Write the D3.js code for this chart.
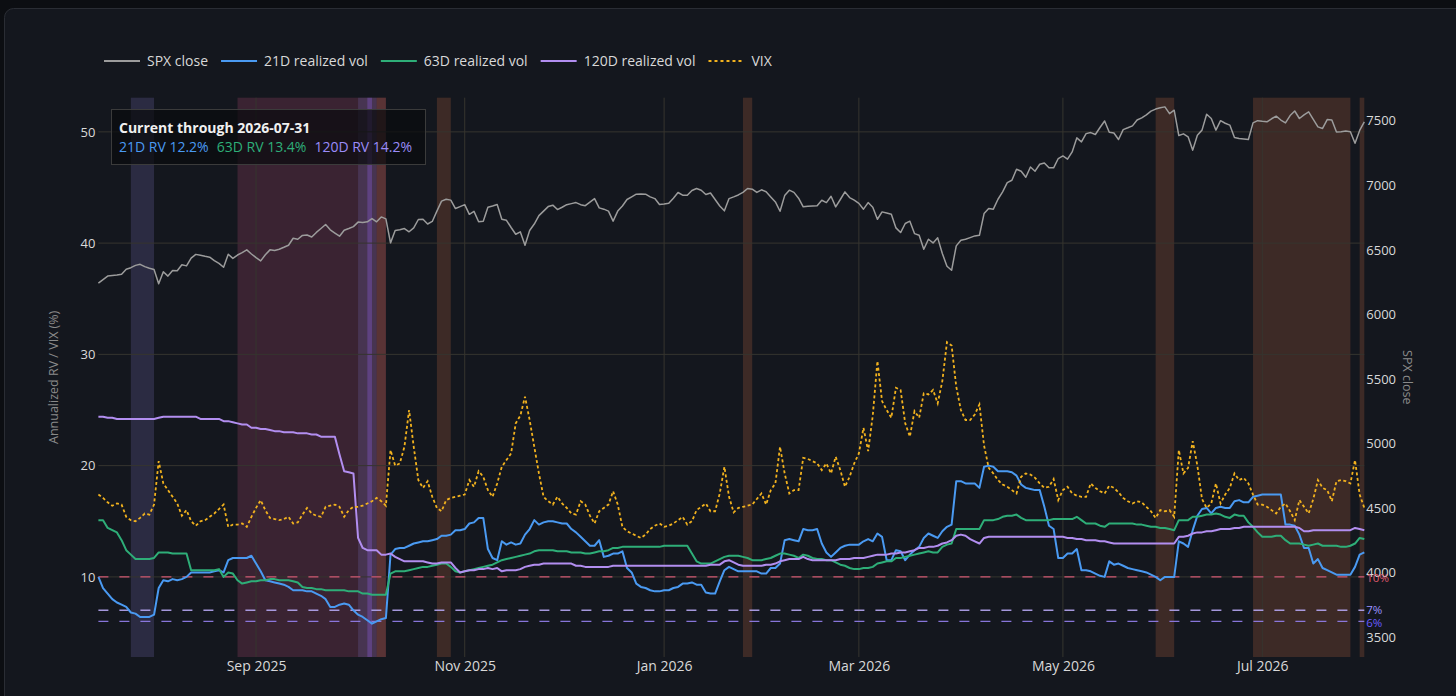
<!DOCTYPE html>
<html>
<head>
<meta charset="utf-8">
<script src="https://cdn.jsdelivr.net/npm/d3@7"></script>
<style>
  body { margin: 0; background: #0c0e12; }
  svg { display: block; font-family: "Open Sans", "Noto Sans", sans-serif; }
</style>
</head>
<body>
<svg id="chart"></svg>
<script>
// ---- data (one value per trading day, 2025-07-15 .. 2026-07-31) ----
const firstDay = "2025-07-15";
const lastDay = "2026-07-31";

const spxClose = [
  6243, 6270, 6297, 6302, 6306, 6312, 6350, 6362, 6380, 6388,
  6370, 6358, 6348, 6238, 6330, 6297, 6340, 6338, 6385, 6376,
  6436, 6465, 6458, 6450, 6443, 6416, 6395, 6365, 6466, 6434,
  6460, 6478, 6500, 6468, 6440, 6415, 6462, 6500, 6495, 6505,
  6520, 6536, 6590, 6582, 6612, 6615, 6600, 6635, 6665, 6696,
  6655, 6630, 6606, 6652, 6665, 6680, 6715, 6712, 6717, 6742,
  6717, 6755, 6740, 6554, 6650, 6655, 6665, 6640, 6670, 6735,
  6737, 6700, 6720, 6800, 6877, 6892, 6885, 6820, 6835, 6850,
  6775, 6798, 6718, 6722, 6830, 6840, 6851, 6737, 6729, 6673,
  6621, 6639, 6536, 6650, 6700, 6765, 6800, 6835, 6846, 6812,
  6830, 6850, 6858, 6866, 6850, 6842, 6870, 6897, 6825, 6815,
  6800, 6722, 6800, 6840, 6890, 6910, 6931, 6932, 6931, 6910,
  6897, 6851, 6855, 6860, 6900, 6944, 6923, 6923, 6960, 6975,
  6962, 6928, 6940, 6890, 6840, 6802, 6897, 6910, 6925, 6945,
  6975, 6970, 6945, 6965, 6950, 6910, 6871, 6799, 6920, 6962,
  6945, 6900, 6833, 6838, 6840, 6841, 6884, 6866, 6915, 6833,
  6890, 6949, 6905, 6885, 6860, 6815, 6866, 6830, 6737, 6794,
  6785, 6776, 6670, 6634, 6704, 6722, 6626, 6613, 6505, 6582,
  6554, 6593, 6472, 6373, 6342, 6531, 6575, 6582, 6595, 6608,
  6613, 6781, 6820, 6815, 6892, 6949, 7021, 7039, 7124, 7109,
  7062, 7142, 7109, 7163, 7173, 7135, 7135, 7207, 7227, 7202,
  7258, 7367, 7336, 7400, 7408, 7393, 7447, 7498, 7410, 7405,
  7354, 7431, 7445, 7460, 7505, 7522, 7545, 7574, 7590, 7600,
  7607, 7555, 7581, 7385, 7398, 7375, 7272, 7388, 7427, 7550,
  7517, 7427, 7500, 7480, 7466, 7370, 7362, 7358, 7354, 7483,
  7500, 7495, 7491, 7515, 7535, 7505, 7483, 7540, 7575, 7517,
  7545, 7568, 7510, 7452, 7440, 7509, 7505, 7413, 7415, 7420,
  7415, 7325, 7425, 7490
];

const rv21 = [
  10.0, 9.0, 8.5, 8.0, 7.7, 7.5, 7.3, 6.8, 6.7, 6.4,
  6.4, 6.4, 6.6, 9.0, 9.7, 9.6, 9.8, 9.7, 9.8, 10.0,
  10.4, 10.4, 10.4, 10.4, 10.4, 10.5, 10.6, 10.4, 11.5, 11.7,
  11.7, 11.7, 11.7, 11.9, 11.2, 10.5, 9.7, 9.6, 9.5, 9.4,
  9.3, 9.1, 8.8, 8.8, 8.8, 8.7, 8.7, 8.5, 8.3, 8.0,
  7.3, 7.3, 7.5, 7.6, 7.5, 7.0, 6.6, 6.4, 6.1, 5.8,
  6.0, 6.2, 6.3, 12.0, 12.5, 12.6, 12.6, 12.8, 13.0, 13.1,
  13.2, 13.2, 13.3, 13.4, 13.7, 13.7, 13.8, 14.2, 14.2, 14.3,
  14.8, 14.9, 15.3, 15.3, 12.5, 11.7, 11.5, 13.2, 12.9, 13.1,
  12.9, 13.0, 13.8, 14.3, 15.1, 14.7, 14.9, 15.0, 15.0, 14.9,
  14.8, 14.8, 14.3, 14.0, 13.6, 13.2, 12.8, 12.8, 13.3, 11.8,
  11.9, 12.1, 12.1, 12.3, 10.8, 10.4, 9.4, 9.1, 9.0, 8.8,
  8.7, 8.7, 8.8, 8.8, 9.0, 9.1, 9.4, 9.4, 9.5, 9.3,
  9.3, 8.6, 8.5, 8.5, 9.6, 10.6, 10.9, 10.7, 10.5, 10.5,
  10.5, 10.5, 10.5, 10.3, 10.3, 10.8, 10.8, 11.2, 13.3, 13.4,
  13.3, 13.2, 14.3, 14.2, 14.2, 14.3, 13.0, 12.2, 11.8, 12.2,
  12.6, 12.8, 12.9, 12.9, 12.9, 13.2, 13.4, 13.2, 13.9, 13.6,
  11.5, 11.5, 12.4, 12.3, 11.5, 12.0, 12.4, 12.7, 13.5, 13.9,
  13.7, 13.5, 14.1, 14.5, 14.7, 18.6, 18.6, 18.4, 18.4, 18.4,
  18.0, 19.9, 20.0, 19.9, 19.5, 19.5, 19.5, 19.4, 19.1, 18.3,
  18.0, 17.9, 17.8, 17.8, 16.3, 14.6, 14.3, 11.7, 11.7, 12.1,
  12.1, 12.5, 10.6, 10.6, 10.5, 10.3, 10.1, 10.0, 11.4, 11.1,
  11.2, 11.0, 10.8, 10.7, 10.6, 10.5, 10.4, 10.2, 10.0, 9.7,
  10.0, 10.0, 10.0, 13.2, 13.0, 12.7, 14.2, 15.5, 16.1, 16.2,
  15.7, 16.2, 16.3, 16.2, 16.2, 16.8, 16.9, 16.7, 16.7, 17.2,
  17.3, 17.4, 17.4, 17.4, 17.4, 17.4, 14.7, 14.7, 14.6, 13.8,
  12.6, 12.6, 11.2, 11.6, 10.8, 10.6, 10.4, 10.2, 10.2, 10.2,
  10.2, 10.9, 12.0, 12.2
];

const rv63 = [
  15.1, 15.1, 14.4, 14.2, 14.0, 13.3, 12.4, 12.0, 11.6, 11.6,
  11.6, 11.6, 11.7, 12.2, 12.2, 12.2, 12.1, 12.1, 12.1, 12.1,
  10.6, 10.6, 10.6, 10.6, 10.6, 10.6, 10.7, 10.0, 10.4, 10.3,
  9.7, 9.4, 9.5, 9.6, 9.6, 9.7, 9.7, 9.8, 9.8, 9.7,
  9.7, 9.7, 9.6, 9.5, 9.1, 9.0, 9.0, 8.9, 8.9, 8.8,
  8.8, 8.8, 8.8, 8.8, 8.7, 8.7, 8.7, 8.5, 8.5, 8.4,
  8.4, 8.4, 8.4, 10.3, 10.5, 10.5, 10.5, 10.6, 10.7, 10.8,
  10.9, 10.9, 11.0, 11.1, 11.2, 11.2, 10.9, 10.5, 10.4, 10.5,
  10.6, 10.7, 10.8, 10.9, 11.0, 11.1, 11.3, 11.5, 11.6, 11.7,
  11.8, 11.9, 12.0, 12.1, 12.3, 12.4, 12.4, 12.4, 12.4, 12.3,
  12.3, 12.3, 12.2, 12.2, 12.2, 12.1, 12.1, 12.2, 12.3, 12.3,
  12.4, 12.6, 12.6, 12.7, 12.7, 12.7, 12.7, 12.7, 12.7, 12.7,
  12.7, 12.7, 12.8, 12.8, 12.8, 12.8, 12.8, 12.8, 12.1, 11.4,
  11.2, 11.2, 11.2, 11.4, 11.6, 11.8, 11.9, 11.9, 11.9, 11.8,
  11.7, 11.5, 11.5, 11.5, 11.6, 11.7, 11.9, 12.1, 12.1, 12.0,
  11.9, 11.7, 12.0, 11.9, 11.7, 11.6, 11.6, 11.5, 11.5, 11.3,
  11.1, 11.0, 10.8, 10.7, 10.7, 10.8, 10.8, 10.9, 11.2, 11.3,
  11.4, 11.4, 11.7, 11.7, 11.8, 11.9, 12.0, 12.1, 12.2, 12.3,
  12.2, 12.2, 12.7, 12.9, 13.0, 14.3, 14.3, 14.3, 14.3, 14.3,
  14.3, 15.1, 15.1, 15.1, 15.2, 15.4, 15.5, 15.5, 15.6, 15.3,
  15.1, 15.1, 15.1, 15.1, 15.1, 15.1, 15.2, 15.2, 15.2, 15.2,
  15.2, 15.4, 15.1, 14.8, 14.8, 14.8, 14.6, 14.5, 14.8, 14.8,
  14.8, 14.8, 14.8, 14.8, 14.7, 14.7, 14.6, 14.5, 14.5, 14.4,
  14.4, 14.3, 14.2, 15.1, 15.1, 15.1, 15.4, 15.4, 15.5, 15.6,
  15.6, 15.7, 15.6, 15.4, 15.3, 15.6, 15.5, 15.5, 14.9, 14.5,
  14.0, 13.6, 13.6, 13.6, 13.7, 13.7, 13.3, 13.0, 13.0, 13.0,
  12.9, 12.8, 12.9, 13.0, 12.8, 12.8, 12.8, 12.8, 12.7, 12.7,
  12.8, 13.0, 13.5, 13.4
];

const rv120 = [
  24.4, 24.4, 24.3, 24.3, 24.2, 24.2, 24.2, 24.2, 24.2, 24.2,
  24.2, 24.2, 24.2, 24.3, 24.4, 24.4, 24.4, 24.4, 24.4, 24.4,
  24.4, 24.4, 24.2, 24.2, 24.2, 24.2, 24.2, 24.0, 24.0, 23.9,
  23.8, 23.7, 23.7, 23.4, 23.4, 23.3, 23.3, 23.2, 23.1, 23.1,
  23.0, 23.0, 23.0, 22.9, 22.9, 22.9, 22.8, 22.8, 22.6, 22.6,
  22.6, 22.6, 21.0, 19.5, 19.4, 19.3, 13.5, 12.6, 12.4, 12.4,
  12.4, 12.0, 12.0, 12.1, 11.8, 11.6, 11.4, 11.4, 11.4, 11.4,
  11.4, 11.3, 11.2, 11.2, 11.3, 11.3, 11.3, 10.8, 10.4, 10.5,
  10.6, 10.6, 10.7, 10.7, 10.8, 10.7, 10.8, 10.5, 10.6, 10.6,
  10.6, 10.7, 10.9, 11.0, 11.1, 11.1, 11.2, 11.2, 11.2, 11.2,
  11.2, 11.2, 11.2, 11.0, 11.0, 10.9, 10.9, 10.9, 10.9, 10.9,
  10.9, 11.0, 11.0, 11.0, 11.0, 11.0, 11.0, 11.0, 11.0, 11.0,
  11.0, 11.0, 11.0, 11.0, 11.0, 11.0, 11.0, 11.0, 11.0, 11.0,
  11.0, 11.0, 11.1, 11.1, 11.1, 11.4, 11.5, 11.3, 11.1, 11.0,
  11.0, 11.0, 11.0, 11.0, 11.1, 11.1, 11.2, 11.4, 11.5, 11.6,
  11.6, 11.6, 11.8, 11.6, 11.5, 11.5, 11.5, 11.5, 11.5, 11.5,
  11.6, 11.6, 11.6, 11.7, 11.7, 11.7, 11.8, 11.9, 12.0, 12.0,
  12.0, 12.1, 12.1, 12.2, 12.2, 12.3, 12.4, 12.6, 12.6, 12.7,
  12.7, 12.8, 13.0, 13.1, 13.3, 13.7, 13.8, 13.7, 13.4, 13.2,
  13.0, 13.5, 13.6, 13.6, 13.6, 13.6, 13.6, 13.6, 13.6, 13.6,
  13.6, 13.6, 13.6, 13.6, 13.6, 13.6, 13.6, 13.6, 13.6, 13.5,
  13.5, 13.4, 13.4, 13.3, 13.3, 13.3, 13.2, 13.2, 13.1, 13.0,
  13.0, 13.0, 13.0, 13.0, 13.0, 13.0, 13.0, 13.0, 13.0, 13.0,
  13.0, 13.0, 13.0, 13.6, 13.6, 13.7, 13.9, 14.0, 14.0, 14.1,
  14.1, 14.2, 14.3, 14.3, 14.3, 14.4, 14.4, 14.5, 14.5, 14.5,
  14.5, 14.5, 14.5, 14.5, 14.5, 14.5, 14.5, 14.5, 14.5, 14.4,
  14.1, 14.1, 14.2, 14.2, 14.2, 14.2, 14.2, 14.2, 14.2, 14.2,
  14.2, 14.4, 14.3, 14.2
];

const vix = [
  17.4, 17.1, 16.7, 16.4, 16.6, 16.5, 15.4, 15.1, 15.0, 15.3,
  15.7, 15.6, 16.5, 20.4, 18.4, 17.8, 17.2, 16.6, 15.5, 16.0,
  15.0, 14.6, 15.0, 15.1, 15.4, 15.7, 16.1, 16.5, 14.5, 14.7,
  14.7, 14.8, 14.5, 15.4, 16.2, 16.9, 16.0, 15.3, 15.2, 15.1,
  15.2, 15.4, 14.8, 14.9, 15.6, 16.2, 15.7, 15.5, 15.4, 16.3,
  16.4, 16.5, 16.3, 15.4, 16.0, 16.3, 16.3, 16.4, 16.6, 16.8,
  17.1, 16.8, 16.4, 21.4, 20.0, 20.2, 21.7, 25.0, 21.7, 18.7,
  18.0, 18.6, 17.2, 16.2, 15.9, 16.9, 17.1, 17.2, 17.3, 17.4,
  18.7, 18.1, 19.5, 19.0, 17.8, 17.2, 18.4, 19.9, 20.5, 21.1,
  23.8, 24.5, 26.2, 24.1, 21.7, 19.3, 17.2, 16.8, 16.5, 17.2,
  16.6, 16.2, 15.7, 15.6, 16.8, 16.5, 15.5, 14.8, 15.9, 16.2,
  16.5, 17.7, 16.5, 14.5, 14.1, 13.9, 13.7, 13.5, 13.8, 14.3,
  14.6, 14.8, 14.5, 14.6, 14.8, 15.1, 15.4, 14.7, 15.0, 16.0,
  16.3, 16.6, 15.9, 15.9, 17.5, 19.9, 17.2, 15.8, 16.2, 16.3,
  16.4, 16.5, 17.0, 17.5, 16.5, 17.8, 18.4, 21.7, 19.3, 17.5,
  17.8, 17.8, 20.7, 20.6, 20.4, 20.2, 19.6, 20.2, 19.3, 20.8,
  19.6, 18.1, 19.0, 20.2, 21.1, 23.4, 21.3, 24.5, 29.4, 25.8,
  25.0, 24.3, 27.0, 26.8, 23.8, 22.6, 24.9, 24.3, 26.5, 26.4,
  26.8, 25.6, 27.6, 31.1, 30.8, 27.1, 25.0, 24.1, 24.1, 24.6,
  25.5, 21.8, 19.8, 19.3, 18.7, 18.3, 18.1, 17.8, 17.5, 19.0,
  19.3, 19.2, 18.9, 18.4, 18.0, 18.1, 18.8, 16.9, 17.8, 18.1,
  17.5, 17.3, 17.2, 17.2, 18.4, 18.0, 17.7, 17.5, 18.2, 18.0,
  17.6, 17.1, 16.8, 16.6, 16.8, 16.7, 16.3, 15.9, 15.3, 16.0,
  15.9, 16.0, 15.4, 21.4, 19.3, 19.8, 22.2, 20.0, 17.0, 16.2,
  16.6, 18.4, 16.6, 17.4, 18.0, 19.3, 18.7, 18.9, 18.4, 17.4,
  16.5, 16.5, 16.3, 16.0, 15.7, 16.3, 16.6, 15.9, 15.1, 16.9,
  16.3, 15.7, 17.0, 18.7, 18.0, 17.8, 16.8, 18.6, 18.7, 18.6,
  18.4, 20.5, 17.4, 16.2
];

// shaded regime windows
const bandStart = ["2025-08-26", "2025-07-24", "2025-10-01", "2025-10-03", "2025-10-07", "2025-10-24", "2026-01-26", "2026-05-29", "2026-06-29", "2026-07-30"];
const bandEnd   = ["2025-10-09", "2025-07-31", "2025-10-07", "2025-10-06", "2025-10-09", "2025-10-29", "2026-01-28", "2026-06-04", "2026-07-28", "2026-07-31"];
const bandKind  = ["pink", "slate", "slate", "violet", "brown", "brown", "brown", "brown", "brown", "brown"];

// reference levels
const refLevels = [10, 7, 6];
const refLabels = ["10%", "7%", "6%"];

// axis ticks
const leftTicks = [10, 20, 30, 40, 50];
const rightTicks = [3500, 4000, 4500, 5000, 5500, 6000, 6500, 7000, 7500];
const monthTicks = ["2025-09-01", "2025-11-01", "2026-01-01", "2026-03-01", "2026-05-01", "2026-07-01"];
const monthLabels = ["Sep 2025", "Nov 2025", "Jan 2026", "Mar 2026", "May 2026", "Jul 2026"];

const legendNames = ["SPX close", "21D realized vol", "63D realized vol", "120D realized vol", "VIX"];
const noteTitle = "Current through 2026-07-31";
const noteItems = ["21D RV 12.2%", "63D RV 13.4%", "120D RV 14.2%"];

// ---- styles ----
const colors = {
  spx: "#9c9c9c", rv21: "#4a9af2", rv63: "#2eae78", rv120: "#b28ef0", vix: "#f2b21e",
  grid: "#36352f", text: "#d9d9d9", title: "#8a8a8a"
};
const bandFill = {
  pink: "rgba(172,71,110,0.25)", slate: "rgba(112,103,174,0.25)",
  violet: "rgba(150,100,240,0.30)", brown: "rgba(184,99,62,0.25)"
};
const refStyle = [
  { line: "#e35d7c", label: "#e05a6e" },
  { line: "#b5a7f2", label: "#9c93ff" },
  { line: "#9480ee", label: "#6a5cff" }
];
const noteColors = ["#4a9af2", "#2eae78", "#9a8cf8"];

// ---- layout ----
const width = 1456, height = 696;
const margin = { top: 97.7, right: 91.7, bottom: 39, left: 98.4 };

const parse = d3.utcParse("%Y-%m-%d");
const days = d3.utcDay.range(parse(firstDay), d3.utcDay.offset(parse(lastDay), 1))
  .filter(d => d.getUTCDay() !== 0 && d.getUTCDay() !== 6);
const dayIndex = s => d3.bisector(d => d).left(days, parse(s));

const svg = d3.select("#chart").attr("width", width).attr("height", height);

svg.append("rect")
  .attr("x", 4.5).attr("y", 8.5).attr("width", width + 20).attr("height", height + 20)
  .attr("rx", 9).attr("fill", "#14171e").attr("stroke", "#2a2d34");

const x = d3.scaleLinear().domain([0, days.length - 1]).range([margin.left, width - margin.right]);
const yL = d3.scaleLinear().domain([2.8, 53.07]).range([height - margin.bottom, margin.top]);
const yR = d3.scaleLinear().domain([3348, 7678]).range([height - margin.bottom, margin.top]);

const plot = svg.append("g");

// bands
plot.selectAll("rect.band")
  .data(bandKind.map((k, i) => ({ k, s: dayIndex(bandStart[i]), e: dayIndex(bandEnd[i]) })))
  .enter().append("rect")
  .attr("class", "band")
  .attr("x", d => x(d.s))
  .attr("width", d => x(d.e) - x(d.s))
  .attr("y", margin.top)
  .attr("height", height - margin.bottom - margin.top)
  .attr("fill", d => bandFill[d.k]);

// grid
plot.selectAll("line.hgrid").data(leftTicks).enter().append("line")
  .attr("x1", margin.left).attr("x2", width - margin.right)
  .attr("y1", d => yL(d)).attr("y2", d => yL(d))
  .attr("stroke", colors.grid).attr("stroke-width", 1);

const monthIdx = monthTicks.map(dayIndex);
plot.selectAll("line.vgrid").data(monthIdx).enter().append("line")
  .attr("x1", d => x(d)).attr("x2", d => x(d))
  .attr("y1", margin.top).attr("y2", height - margin.bottom)
  .attr("stroke", colors.grid).attr("stroke-width", 1);

// reference lines
refLevels.forEach((v, i) => {
  plot.append("line")
    .attr("x1", margin.left).attr("x2", width - margin.right)
    .attr("y1", yL(v)).attr("y2", yL(v))
    .attr("stroke", refStyle[i].line).attr("stroke-width", 1.3)
    .attr("stroke-dasharray", "10,11").attr("opacity", 0.9);
});

// axes
const axisL = svg.append("g").attr("transform", `translate(${margin.left - 2},0)`)
  .call(d3.axisLeft(yL).tickValues(leftTicks).tickSize(0).tickPadding(1));
const axisR = svg.append("g").attr("transform", `translate(${width - margin.right},0)`)
  .call(d3.axisRight(yR).tickValues(rightTicks).tickFormat(d3.format("d")).tickSize(0).tickPadding(2));
const axisB = svg.append("g").attr("transform", `translate(0,${height - margin.bottom})`)
  .call(d3.axisBottom(x).tickValues(monthIdx).tickFormat((d, i) => monthLabels[i]).tickSize(0).tickPadding(4));
[axisL, axisR, axisB].forEach(a => {
  a.select(".domain").remove();
  a.selectAll("text").attr("fill", colors.text).style("font-size", "13px")
    .style("font-family", '"Open Sans", sans-serif');
});
axisB.selectAll("text").style("font-size", "14px");

// reference labels
const refDy = [5, 4, 6];
refLevels.forEach((v, i) => {
  svg.append("text")
    .attr("x", width - margin.right + 2).attr("y", yL(v) + refDy[i])
    .attr("fill", refStyle[i].label).style("font-size", "11.5px")
    .text(refLabels[i]);
});

// axis titles
svg.append("text")
  .attr("transform", `translate(58,${(margin.top + height - margin.bottom) / 2}) rotate(-90)`)
  .attr("text-anchor", "middle").attr("fill", colors.title).style("font-size", "12.5px")
  .text("Annualized RV / VIX (%)");
svg.append("text")
  .attr("transform", `translate(1403,${(margin.top + height - margin.bottom) / 2}) rotate(90)`)
  .attr("text-anchor", "middle").attr("fill", colors.title).style("font-size", "12.5px")
  .text("SPX close");

// series
const lineL = d3.line().x((d, i) => x(i)).y(d => yL(d));
const lineR = d3.line().x((d, i) => x(i)).y(d => yR(d));

plot.append("path").datum(spxClose).attr("d", lineR)
  .attr("fill", "none").attr("stroke", colors.spx).attr("stroke-width", 1.5).attr("stroke-linejoin", "round");
[[rv21, colors.rv21], [rv63, colors.rv63], [rv120, colors.rv120]].forEach(([s, c]) => {
  plot.append("path").datum(s).attr("d", lineL)
    .attr("fill", "none").attr("stroke", c).attr("stroke-width", 2).attr("stroke-linejoin", "round");
});
plot.append("path").datum(vix).attr("d", lineL)
  .attr("fill", "none").attr("stroke", colors.vix).attr("stroke-width", 1.8)
  .attr("stroke-dasharray", "3,2.5");

// legend
const legendStyle = [
  { c: colors.spx, dash: null, w: 2 }, { c: colors.rv21, dash: null, w: 2.2 },
  { c: colors.rv63, dash: null, w: 2.2 }, { c: colors.rv120, dash: null, w: 2.2 },
  { c: colors.vix, dash: "3,3", w: 2 }
];
const legend = svg.append("g").attr("transform", "translate(104,61)");
let lx = 0;
legendNames.forEach((name, i) => {
  const st = legendStyle[i];
  legend.append("line").attr("x1", lx).attr("x2", lx + 36).attr("y1", 0).attr("y2", 0)
    .attr("stroke", st.c).attr("stroke-width", st.w).attr("stroke-dasharray", st.dash);
  const t = legend.append("text").attr("x", lx + 43).attr("y", 5)
    .attr("fill", colors.text).style("font-size", "14px").text(name);
  lx += 43 + t.node().getComputedTextLength() + 13;
});

// note box
const note = svg.append("g");
note.append("rect").attr("x", 111.5).attr("y", 109.5).attr("width", 314).attr("height", 55)
  .attr("fill", "rgba(10,11,14,0.72)").attr("stroke", "#3b3b3b");
note.append("text").attr("x", 119).attr("y", 133).attr("fill", "#f0f0f0")
  .style("font-size", "14px").style("font-weight", "bold").text(noteTitle);
let nx = 119;
noteItems.forEach((s, i) => {
  const t = note.append("text").attr("x", nx).attr("y", 152)
    .attr("fill", noteColors[i]).style("font-size", "14px").text(s);
  nx += t.node().getComputedTextLength() + 8;
});
</script>
</body>
</html>
